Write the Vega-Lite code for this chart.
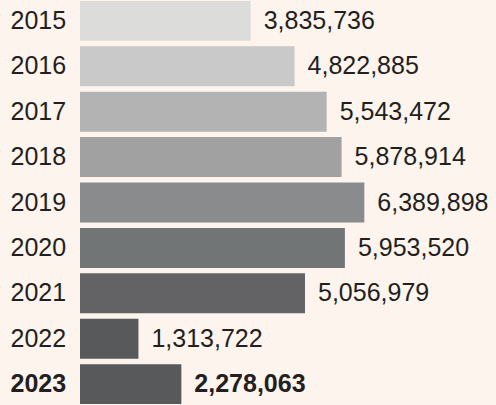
{
  "$schema": "https://vega.github.io/schema/vega-lite/v6.json",
  "autosize": {"type": "fit", "contains": "padding"},
  "width": 496,
  "height": 405,
  "padding": {"left": 0, "right": 0, "top": 0, "bottom": 0},
  "background": "#fdf4ee",
  "config": {"view": {"stroke": null}, "font": "Liberation Sans"},
  "data": {"values": [
    {"year": "2015", "value": 3835736},
    {"year": "2016", "value": 4822885},
    {"year": "2017", "value": 5543472},
    {"year": "2018", "value": 5878914},
    {"year": "2019", "value": 6389898},
    {"year": "2020", "value": 5953520},
    {"year": "2021", "value": 5056979},
    {"year": "2022", "value": 1313722},
    {"year": "2023", "value": 2278063}
  ]},
  "encoding": {
    "y": {
      "field": "year", "type": "nominal", "sort": null,
      "scale": {"paddingInner": 0.12, "paddingOuter": 0.02},
      "axis": {
        "title": null, "domain": false, "ticks": false, "tickSize": 0,
        "labelAlign": "left", "labelPadding": 70, "minExtent": 80, "maxExtent": 80,
        "labelFontSize": 25, "labelColor": "#231f20", "labelFont": "Liberation Sans",
        "labelFontWeight": {"condition": {"test": "datum.value == '2023'", "value": "bold"}, "value": "normal"}
      }
    },
    "x": {
      "field": "value", "type": "quantitative",
      "scale": {"domain": [0, 9350000], "nice": false, "zero": true},
      "axis": null
    }
  },
  "layer": [
    {
      "mark": {"type": "bar"},
      "encoding": {
        "color": {
          "field": "year", "type": "nominal", "legend": null,
          "scale": {
            "domain": ["2015","2016","2017","2018","2019","2020","2021","2022","2023"],
            "range": ["#dcdcdb","#c8c9c8","#b2b3b2","#a0a1a0","#8a8b8c","#727576","#636365","#58595b","#58595b"]
          }
        }
      }
    },
    {
      "transform": [{"filter": "datum.year != '2023'"}],
      "mark": {"type": "text", "align": "left", "baseline": "middle", "dx": 13, "fontSize": 25, "color": "#231f20", "font": "Liberation Sans"},
      "encoding": {"text": {"field": "value", "type": "quantitative", "format": ","}}
    },
    {
      "transform": [{"filter": "datum.year == '2023'"}],
      "mark": {"type": "text", "align": "left", "baseline": "middle", "dx": 13, "fontSize": 25, "fontWeight": "bold", "color": "#231f20", "font": "Liberation Sans"},
      "encoding": {"text": {"field": "value", "type": "quantitative", "format": ","}}
    }
  ]
}
